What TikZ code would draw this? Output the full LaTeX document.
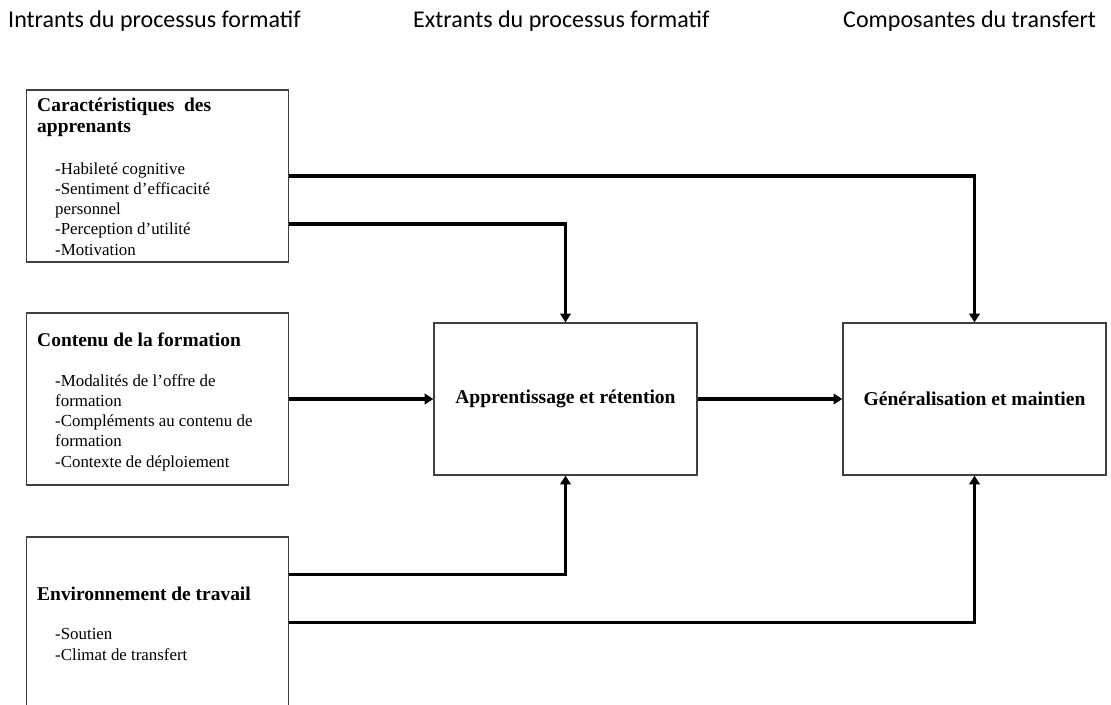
\documentclass[tikz,border=0pt]{standalone}
\usepackage{fontspec}
\setmainfont{Liberation Serif}
\newfontfamily\headfont{Carlito}
\usetikzlibrary{arrows.meta}
\tikzset{box/.style={draw=black!75, line width=1.1pt, inner sep=0pt},
%thick connectors with small filled tips
arr/.style={line width=3pt, -{Triangle[length=7.5pt,width=9pt]}},
head/.style={font=\headfont\fontsize{20.5}{22}\selectfont, anchor=base west, inner sep=0pt},
%multi-line nodes: base anchor sits on the last line
title/.style={font=\bfseries\fontsize{16.6}{18.7}\selectfont, align=left, anchor=base west, inner sep=0pt},
items/.style={font=\fontsize{14.4}{17.2}\selectfont, align=left, anchor=base west, inner sep=0pt}}

\begin{document}
\begin{tikzpicture}[x=0.03cm,y=-0.03cm]
\useasboundingbox (0,0) rectangle (1111,705);
\clip (0,0) rectangle (1111,705);

% column headings
\node[head] (hin) at (8,28) {Intrants du processus formatif};
\node[head] (hout) at (413,28) {Extrants du processus formatif};
\node[head] (htr) at (843,28) {Composantes du transfert};

% inputs
\node[box, minimum width=262*0.03cm, minimum height=172*0.03cm] (caract) at (157.5,176) {};
\node[title] (caractT) at (37,133) {Caractéristiques\ \ des\\apprenants};
\node[items] (caractL) at (55,255) {-Habileté cognitive\\-Sentiment d’efficacité\\personnel\\-Perception d’utilité\\-Motivation};

\node[box, minimum width=262*0.03cm, minimum height=172*0.03cm] (contenu) at (157.5,399) {};
\node[title] (contenuT) at (37,346) {Contenu de la formation};
\node[items] (contenuL) at (55,467) {-Modalités de l’offre de\\formation\\-Compléments au contenu de\\formation\\-Contexte de déploiement};

\node[box, minimum width=262*0.03cm, minimum height=190*0.03cm] (envir) at (157.5,632) {};
\node[title] (envirT) at (37,600) {Environnement de travail};
\node[items] (envirL) at (55,660) {-Soutien\\-Climat de transfert};

% outputs
\node[box, minimum width=263*0.03cm, minimum height=152*0.03cm, font=\bfseries\fontsize{16.7}{18}\selectfont] (appr) at (565.5,399) {Apprentissage et rétention};
\node[box, minimum width=263*0.03cm, minimum height=152*0.03cm, font=\bfseries\fontsize{16.7}{18}\selectfont] (gener) at (974.5,399) {Généralisation et maintien};

% links
\draw[arr] (caract.east) -| (gener.north);
\draw[arr] ([yshift=-1.44cm]caract.east) -| (appr.north);
\draw[arr] (contenu.east) -- (appr.west);
\draw[arr] (appr.east) -- (gener.west);
\draw[arr] ([yshift=-1.14cm]envir.north east) -| (appr.south);
\draw[arr] ([yshift=-2.58cm]envir.north east) -| (gener.south);

\end{tikzpicture}
\end{document}
